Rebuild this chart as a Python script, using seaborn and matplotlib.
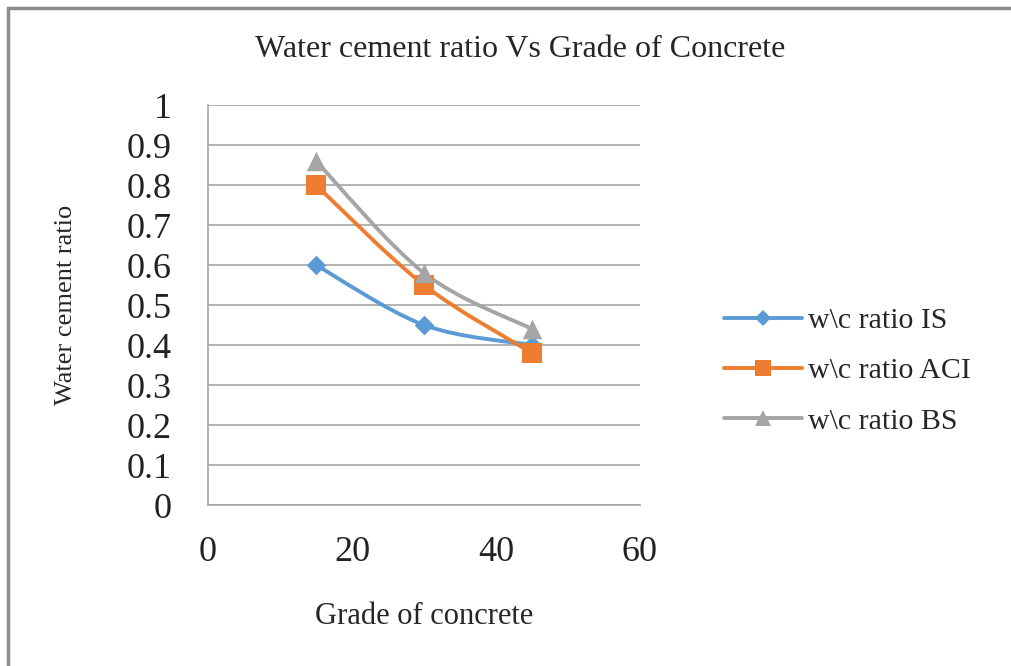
"""Water cement ratio vs grade of concrete, Excel-style smoothed scatter."""

import numpy as np
import pandas as pd
import seaborn as sb
from matplotlib import pyplot as plt
from matplotlib.path import Path
from matplotlib.patches import PathPatch, Rectangle
from matplotlib.lines import Line2D

grades = [15, 30, 45]
wc_is = [0.60, 0.45, 0.40]
wc_aci = [0.80, 0.55, 0.38]
wc_bs = [0.86, 0.58, 0.44]
series_names = ["w\\c ratio IS", "w\\c ratio ACI", "w\\c ratio BS"]
colors = ["#5B9BD5", "#ED7D31", "#A5A5A5"]
markers = ["D", "s", "^"]
msizes = [10, 14, 14]


def smooth_path(x, y):
    """Catmull-Rom style bezier through the points (like Excel smoothed lines)."""
    pts = np.column_stack([x, y]).astype(float)
    verts = [pts[0]]
    codes = [Path.MOVETO]
    n = len(pts)
    for i in range(n - 1):
        p0 = pts[i - 1] if i > 0 else pts[i]
        p1, p2 = pts[i], pts[i + 1]
        p3 = pts[i + 2] if i + 2 < n else pts[i + 1]
        c1 = p1 + (p2 - p0) / 6
        c2 = p2 - (p3 - p1) / 6
        verts += [c1, c2, p2]
        codes += [Path.CURVE4] * 3
    return Path(verts, codes)


df = pd.DataFrame({
    "grade": grades * 3,
    "wc": wc_is + wc_aci + wc_bs,
    "series": [s for s in series_names for _ in grades],
})

sb.set_style("white")
plt.rcParams["font.family"] = ["Liberation Serif", "DejaVu Serif"]

fig = plt.figure(figsize=(10.11, 6.66), dpi=100)
ax = fig.add_axes([0.2057, 0.2417, 0.4273, 0.6006])

handles = []
for name, col, mk, ms in zip(series_names, colors, markers, msizes):
    sub = df[df["series"] == name]
    ax.add_patch(PathPatch(smooth_path(sub["grade"], sub["wc"]), facecolor="none",
                           edgecolor=col, lw=2.8, zorder=3, capstyle="round"))
    sb.scatterplot(data=sub, x="grade", y="wc", marker=mk, s=ms ** 2, color=col,
                   edgecolor=col, linewidth=0, ax=ax, zorder=4, legend=False)
    handles.append(Line2D([], [], color=col, lw=2.8, marker=mk, markersize=ms * 0.8,
                          markeredgewidth=0, label=name))

ax.set_xlim(0, 60)
ax.set_ylim(0, 1)
ax.set_xticks([0, 20, 40, 60])
ax.set_yticks(np.arange(0, 1.01, 0.1))
ax.set_yticklabels(["0", "0.1", "0.2", "0.3", "0.4", "0.5", "0.6", "0.7", "0.8", "0.9", "1"])
ax.tick_params(axis="both", length=0, labelsize=26, colors="#222222")
ax.tick_params(axis="y", pad=26)
ax.tick_params(axis="x", pad=22)
ax.yaxis.grid(True, color="#A6A6A6", lw=1.2)
ax.xaxis.grid(False)
for side in ["top", "right"]:
    ax.spines[side].set_visible(False)
for side in ["left", "bottom"]:
    ax.spines[side].set_color("#A6A6A6")
    ax.spines[side].set_linewidth(1.2)

ax.set_xlabel("Grade of concrete", fontsize=22, labelpad=24)
ax.set_ylabel("Water cement ratio", fontsize=19, labelpad=36)
fig.text(0.515, 0.925, "Water cement ratio Vs Grade of Concrete", fontsize=23,
         ha="center", va="center")

fig.legend(handles=handles, loc="center left", bbox_to_anchor=(0.69, 0.443),
           frameon=False, fontsize=21.5, handlelength=2.6, labelspacing=0.78,
           handletextpad=0.2)

# outer chart border
fig.add_artist(Rectangle((0.008, -0.01), 1.0, 0.998, transform=fig.transFigure,
                         facecolor="none", edgecolor="#8C8C8C", lw=2.5))

plt.savefig("out.png", dpi=100)
